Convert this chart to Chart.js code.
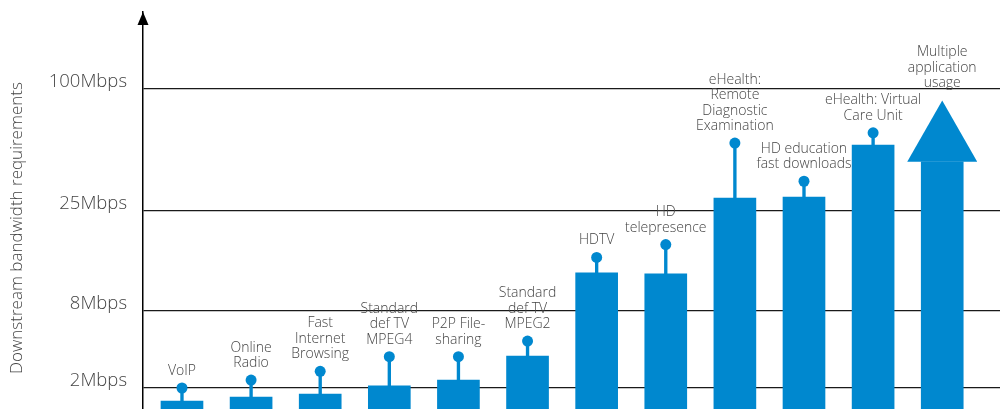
<!DOCTYPE html>
<html><head><meta charset="utf-8">
<script src="https://cdn.jsdelivr.net/npm/chart.js@4/dist/chart.umd.min.js"></script>
<style>html,body{margin:0;padding:0;background:#fff;overflow:hidden;}</style>
</head><body>
<canvas id="c" width="1000" height="409"></canvas>
<script>
// ---- data ----
const CATEGORIES = [
  ['VoIP'],
  ['Online', 'Radio'],
  ['Fast', 'Internet', 'Browsing'],
  ['Standard', 'def TV', 'MPEG4'],
  ['P2P File-', 'sharing'],
  ['Standard', 'def TV', 'MPEG2'],
  ['HDTV'],
  ['HD', 'telepresence'],
  ['eHealth:', 'Remote', 'Diagnostic', 'Examination'],
  ['HD education', 'fast downloads'],
  ['eHealth: Virtual', 'Care Unit'],
  ['Multiple', 'application', 'usage']
];
const BAR_MBPS  = [0.76, 1.14, 1.43, 2.16, 2.62, 4.49, 14.5, 14.3, 33.0, 33.6, 65.6, 55.3];
const PEAK_MBPS = [2.0, 2.62, 3.3, 4.44, 4.44, 5.66, 17.1, 19.3, 66.8, 43.3, 73.1, null];
const ARROW_TIP_MBPS = 93;
const TICK_MBPS = [2, 8, 25, 100];
const TICK_LABELS = ['2Mbps', '8Mbps', '25Mbps', '100Mbps'];
const Y_TITLE = 'Downstream bandwidth requirements';
// non-uniform axis: Mbps stops and their fraction of the axis height
const SCALE_MBPS = [0, 2, 8, 25, 100, 150];
const SCALE_FRAC = [0, 0.0529, 0.2469, 0.4987, 0.806, 1];

const BLUE = '#0088cf';
const TEXT = '#444444';
const FONT = "'Open Sans', 'Noto Sans', sans-serif";

// ---- piecewise y scale ----
class PiecewiseScale extends Chart.LinearScale {
  determineDataLimits() { this.min = SCALE_MBPS[0]; this.max = SCALE_MBPS[SCALE_MBPS.length - 1]; }
  buildTicks() { return TICK_MBPS.map(v => ({ value: v })); }
  _frac(v) {
    const n = SCALE_MBPS.length;
    if (v <= SCALE_MBPS[0]) return SCALE_FRAC[0];
    for (let k = 0; k < n - 1; k++) {
      const a = SCALE_MBPS[k], b = SCALE_MBPS[k + 1];
      if (v <= b) return SCALE_FRAC[k] + (v - a) / (b - a) * (SCALE_FRAC[k + 1] - SCALE_FRAC[k]);
    }
    return SCALE_FRAC[n - 1];
  }
  getPixelForValue(v) {
    if (v === null || v === undefined || isNaN(v)) return NaN;
    return this.getPixelForDecimal(this._frac(v));
  }
  getValueForPixel(p) {
    const d = this.getDecimalForPixel(p);
    for (let k = 0; k < SCALE_FRAC.length - 1; k++) {
      if (d <= SCALE_FRAC[k + 1]) {
        return SCALE_MBPS[k] + (d - SCALE_FRAC[k]) / (SCALE_FRAC[k + 1] - SCALE_FRAC[k]) * (SCALE_MBPS[k + 1] - SCALE_MBPS[k]);
      }
    }
    return SCALE_MBPS[SCALE_MBPS.length - 1];
  }
}
PiecewiseScale.id = 'piecewise';
PiecewiseScale.defaults = Chart.LinearScale.defaults;
Chart.register(PiecewiseScale);

const idx = CATEGORIES.map((_, i) => i);
const last = CATEGORIES.length - 1;

const annotate = {
  id: 'annotate',
  afterDatasetsDraw(chart) {
    const { ctx, chartArea } = chart;
    const x = chart.scales.x, y = chart.scales.y;
    ctx.save();
    // arrow head on the last bar
    const cx = x.getPixelForValue(last);
    const base = y.getPixelForValue(BAR_MBPS[last]);
    const tip = y.getPixelForValue(ARROW_TIP_MBPS);
    ctx.fillStyle = BLUE;
    ctx.beginPath();
    ctx.moveTo(cx - 35, base); ctx.lineTo(cx + 35, base); ctx.lineTo(cx, tip);
    ctx.closePath(); ctx.fill();
    // y axis arrow head
    const ax = chartArea.left;
    ctx.fillStyle = '#000';
    ctx.beginPath();
    ctx.moveTo(ax - 5.5, chartArea.top + 13); ctx.lineTo(ax + 5.5, chartArea.top + 13); ctx.lineTo(ax, chartArea.top);
    ctx.closePath(); ctx.fill();
    // category labels
    ctx.fillStyle = TEXT;
    ctx.font = '300 14px ' + FONT;
    ctx.textAlign = 'center';
    ctx.textBaseline = 'middle';
    CATEGORIES.forEach((lines, i) => {
      const top = i === last ? tip : y.getPixelForValue(PEAK_MBPS[i]);
      const px = x.getPixelForValue(i);
      const n = lines.length;
      lines.forEach((t, k) => ctx.fillText(t, px, top - 17 - (n - 1 - k) * 15.5));
    });
    // y title
    ctx.translate(17, 228);
    ctx.rotate(-Math.PI / 2);
    ctx.font = '300 17px ' + FONT;
    ctx.fillText(Y_TITLE, 0, 0);
    ctx.restore();
  }
};

new Chart(document.getElementById('c'), {
  type: 'bar',
  data: {
    datasets: [
      {
        type: 'line', showLine: false,
        data: idx.filter(i => PEAK_MBPS[i] !== null).map(i => ({ x: i, y: PEAK_MBPS[i] })),
        pointRadius: 5.5, pointBackgroundColor: BLUE, pointBorderWidth: 0, borderColor: BLUE
      },
      {
        data: idx.filter(i => PEAK_MBPS[i] !== null).map(i => ({ x: i, y: [BAR_MBPS[i], PEAK_MBPS[i]] })),
        backgroundColor: BLUE, barThickness: 2.7, grouped: false, borderWidth: 0
      },
      {
        data: idx.map(i => ({ x: i, y: BAR_MBPS[i] })),
        backgroundColor: BLUE, barThickness: 42, grouped: false, borderWidth: 0
      }
    ]
  },
  options: {
    responsive: false,
    animation: false,
    devicePixelRatio: 1,
    layout: { autoPadding: false, padding: { top: 12, left: 0, right: 0, bottom: 0 } },
    plugins: { legend: { display: false }, tooltip: { enabled: false } },
    scales: {
      x: { type: 'linear', display: false, offset: false, min: -0.564, max: 11.836 },
      y: {
        type: 'piecewise',
        afterFit: s => { s.width = 143; s.paddingTop = 0; s.paddingBottom = 0; },
        grid: { color: '#1a1a1a', lineWidth: 1.3, drawTicks: false },
        border: { display: true, color: '#000', width: 1.5 },
        ticks: {
          padding: 16, labelOffset: -7, color: TEXT,
          font: { family: FONT, size: 18.5, weight: '300' },
          callback: v => TICK_LABELS[TICK_MBPS.indexOf(v)]
        }
      }
    }
  },
  plugins: [annotate]
});
</script>
</body></html>
